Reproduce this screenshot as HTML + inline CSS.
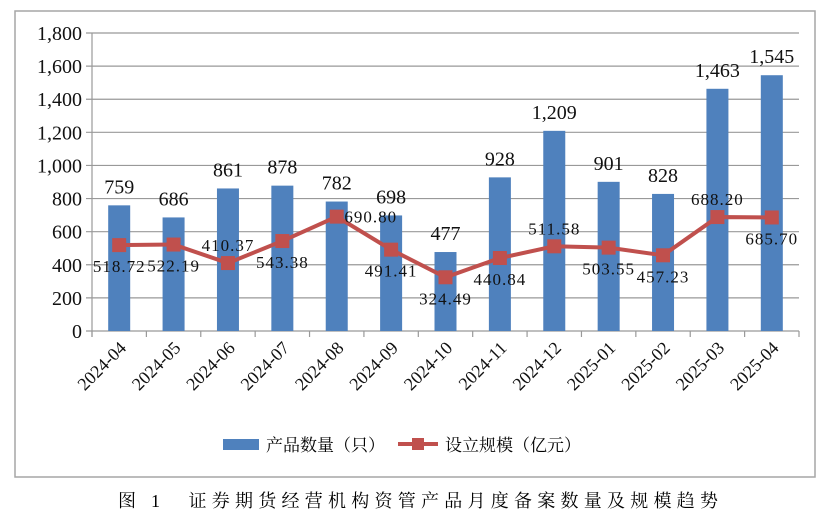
<!DOCTYPE html>
<html><head><meta charset="utf-8"><style>
body{margin:0;background:#fff;}
svg text{font-family:"Liberation Serif","Noto Serif CJK SC",serif;}
</style></head><body>
<svg id="c" width="830" height="520" xmlns="http://www.w3.org/2000/svg">
<rect x="15" y="11" width="800" height="466" fill="#fff" stroke="#a6a6a6" stroke-width="1.5"/>
<g id="grid"></g><g id="bars"></g><g id="line"></g><g id="labels"></g><g id="axes"></g>
<g>
<rect x="223" y="439" width="36" height="11" fill="#4f81bd"/>
<text x="266" y="451" font-size="17" font-family="Liberation Sans,Noto Sans CJK SC,sans-serif">产品数量（只）</text>
<line x1="398" y1="444" x2="438" y2="444" stroke="#c0504d" stroke-width="4"/>
<rect x="412" y="438" width="12" height="12" fill="#c0504d"/>
<text x="445" y="451" font-size="17" font-family="Liberation Sans,Noto Sans CJK SC,sans-serif">设立规模（亿元）</text>
</g>
<text x="118" y="507" font-size="18" textLength="600" lengthAdjust="spacing">图 1　证券期货经营机构资管产品月度备案数量及规模趋势</text>
</svg>
<script>
const categories=["2024-04","2024-05","2024-06","2024-07","2024-08","2024-09","2024-10","2024-11","2024-12","2025-01","2025-02","2025-03","2025-04"];
const productCounts=[759,686,861,878,782,698,477,928,1209,901,828,1463,1545];
const scaleValues=[518.72,522.19,410.37,543.38,690.80,491.41,324.49,440.84,511.58,503.55,457.23,688.20,685.70];
const yTicks=[0,200,400,600,800,1000,1200,1400,1600,1800];
const countLabels=["759","686","861","878","782","698","477","928","1,209","901","828","1,463","1,545"];
const scaleLabels=["518.72","522.19","410.37","543.38","690.80","491.41","324.49","440.84","511.58","503.55","457.23","688.20","685.70"];
const scaleLabelPos=["below","below","above","below","right","below","below","below","above","below","below","above","below"];
const NS="http://www.w3.org/2000/svg";
const X0=92,X1=799,Y0=331,Y1=33,YMAX=1800;
const bw=(X1-X0)/categories.length;
const xc=i=>X0+bw*(i+0.5);
const y=v=>Y0-(v/YMAX)*(Y0-Y1);
function mk(tag,attrs,parent,txt){const e=document.createElementNS(NS,tag);for(const k in attrs)e.setAttribute(k,attrs[k]);if(txt!=null)e.textContent=txt;document.getElementById(parent).appendChild(e);return e;}
yTicks.forEach((t,i)=>{
  const g=mk('line',{x1:X0-6,x2:X1,y1:y(t),y2:y(t),stroke:'#999','stroke-width':1.2},'grid');
  
  
  const l=mk('text',{x:X0-10,y:y(t)+7,'font-size':20,'text-anchor':'end',fill:'#111'},'axes',t.toLocaleString('en-US'));
  
  
});
const ax=mk('line',{x1:X0,x2:X0,y1:Y1,y2:Y0+6,stroke:'#999','stroke-width':1.2},'axes');


for(let i=0;i<=categories.length;i++){
  const t=mk('line',{x1:X0+bw*i,x2:X0+bw*i,y1:Y0,y2:Y0+6,stroke:'#999','stroke-width':1.2},'axes');
  
  
}
categories.forEach((c,i)=>{
  const b=mk('rect',{x:xc(i)-11,y:y(productCounts[i]),width:22,height:Y0-y(productCounts[i]),fill:'#4f81bd'},'bars');
  
  
  const bl=mk('text',{x:xc(i),y:y(productCounts[i])-12,'font-size':20,'text-anchor':'middle',fill:'#111'},'labels',countLabels[i]);
  
  
  const xl=mk('text',{x:xc(i)+8,y:Y0+18,'font-size':18,'text-anchor':'end',fill:'#111',transform:`rotate(-45 ${xc(i)+8} ${Y0+18})`},'axes',c);
  
  
});
const pts=scaleValues.map((v,i)=>xc(i)+','+y(v)).join(' ');
const pl=mk('polyline',{points:pts,fill:'none',stroke:'#c0504d','stroke-width':4},'line');


scaleValues.forEach((v,i)=>{
  const m=mk('rect',{x:xc(i)-7,y:y(v)-7,width:14,height:14,fill:'#c0504d'},'line');
  
  
  const p=scaleLabelPos[i];
  let lx=xc(i),ly=y(v)+27;
  if(p==='above'){ly=y(v)-12;}
  if(p==='right'){lx=xc(i)+34;ly=y(v)+6;}
  const l=mk('text',{x:lx,y:ly,'font-size':17,'letter-spacing':1,'text-anchor':'middle',fill:'#111'},'labels',scaleLabels[i]);
  
  
});
</script>
</body></html>
